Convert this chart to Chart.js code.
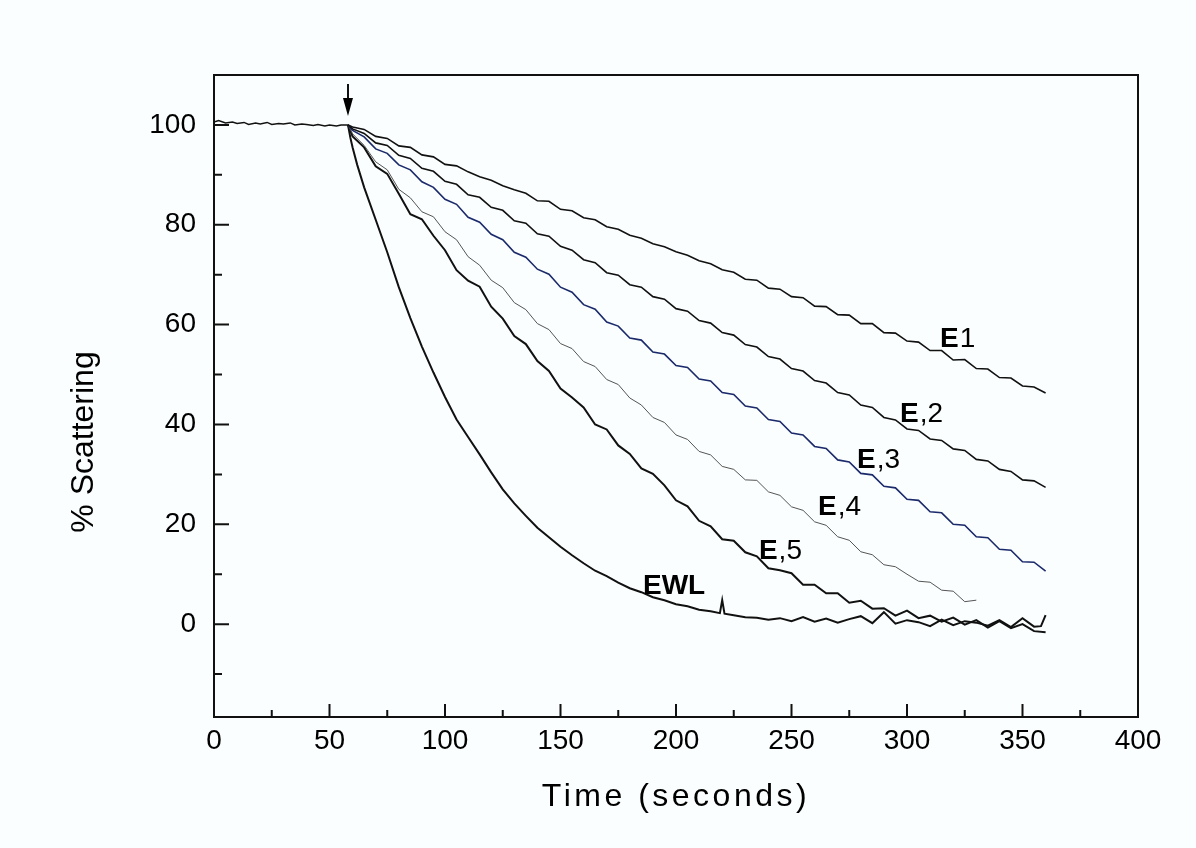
<!DOCTYPE html>
<html>
<head>
<meta charset="utf-8">
<script src="https://cdn.jsdelivr.net/npm/chart.js@4.4.1/dist/chart.umd.min.js"></script>
<style>
  html, body { margin: 0; padding: 0; background: #fbfefe; }
  #wrap { width: 1196px; height: 848px; }
</style>
</head>
<body>
<div id="wrap"><canvas id="myChart"></canvas></div>
<script>
// baseline before the addition (t < 58 s)
var baseTime = [0, 2, 5, 8, 10, 13, 15, 18, 20, 23, 25, 28, 30, 33, 35, 38, 40, 43, 45, 48, 50, 53, 55, 58];
var baseVals = [100.6, 100.9, 100.4, 100.6, 100.3, 100.5, 100.1, 100.4, 100.2, 100.5, 100.1, 100.3, 100.2, 100.4, 100.0, 100.2, 100.1, 99.9, 100.1, 99.8, 100.0, 99.8, 100.0, 100.0];

var time = [58, 60, 65, 70, 75, 80, 85, 90, 95, 100, 105, 110, 115, 120, 125, 130, 135, 140, 145, 150,
  155, 160, 165, 170, 175, 180, 185, 190, 195, 200, 205, 210, 215, 220, 225, 230, 235, 240, 245, 250,
  255, 260, 265, 270, 275, 280, 285, 290, 295, 300, 305, 310, 315, 320, 325, 330, 335, 340, 345, 350, 355, 360];

var e1 = [100, 99.6, 99.1, 97.7, 97.3, 95.8, 95.5, 94.0, 93.6, 92.1,
  91.8, 90.6, 89.6, 88.9, 87.8, 87.0, 86.3, 84.8, 84.7, 83.1,
  82.8, 81.4, 81.0, 79.6, 79.1, 77.9, 77.3, 76.2, 75.6, 74.6,
  73.9, 72.8, 72.2, 71.0, 70.5, 69.1, 68.9, 67.3, 67.1, 65.6,
  65.4, 63.7, 63.6, 62.0, 61.9, 60.2, 60.2, 58.4, 58.3, 56.7,
  56.5, 54.8, 54.8, 52.9, 53.0, 51.2, 51.1, 49.4, 49.3, 47.7, 47.5, 46.3];

var e2 = [100, 99.2, 98.3, 96.4, 95.9, 93.9, 93.3, 91.3, 90.7, 88.7,
  88.1, 86.0, 85.5, 83.5, 82.9, 80.8, 80.3, 78.2, 77.7, 75.7,
  74.9, 73.0, 72.4, 70.4, 69.9, 68.0, 67.5, 65.6, 65.1, 63.2,
  62.7, 60.8, 60.3, 58.4, 57.9, 56.0, 55.5, 53.6, 53.1, 51.2,
  50.7, 48.8, 48.3, 46.4, 45.9, 43.9, 43.4, 41.4, 40.9, 39.1,
  38.8, 37.1, 36.8, 35.1, 34.8, 33.0, 32.7, 31.0, 30.6, 28.9, 28.7, 27.4];

var e3 = [100, 98.9, 97.6, 95.2, 94.3, 92.0, 91.0, 88.6, 87.5, 85.1,
  84.1, 81.5, 80.5, 78.1, 77.0, 74.5, 73.5, 71.1, 70.1, 67.5,
  66.5, 64.0, 63.1, 60.5, 59.7, 57.3, 56.9, 54.5, 54.1, 51.8,
  51.4, 49.1, 48.7, 46.4, 46.0, 43.7, 43.3, 41.0, 40.6, 38.3,
  37.9, 35.6, 35.2, 32.9, 32.5, 30.2, 29.9, 27.6, 27.3, 25.0,
  24.8, 22.5, 22.3, 20.0, 19.8, 17.5, 17.3, 15.0, 14.8, 12.5, 12.4, 10.6];

// E,4 stops at 330 s
var e4 = [100, 98.2, 95.9, 92.6, 91.0, 87.1, 85.4, 82.6, 81.6, 78.6,
  77.0, 73.6, 71.9, 68.9, 67.4, 64.4, 63.0, 60.2, 59.0, 56.2,
  55.2, 52.6, 51.6, 49.0, 48.0, 45.3, 43.9, 41.4, 40.4, 37.9,
  37.0, 34.6, 33.9, 31.6, 31.0, 28.9, 28.8, 26.5, 25.8, 23.5,
  22.8, 20.5, 19.8, 17.5, 16.8, 14.5, 13.9, 11.9, 11.5, 10.0,
  8.6, 8.4, 6.8, 6.6, 4.5, 4.8];

var e5 = [100, 97.7, 95.5, 91.7, 90.2, 86.2, 82.1, 81.1, 77.8, 74.9,
  70.9, 68.8, 67.6, 63.6, 61.2, 57.7, 56.1, 52.7, 50.7, 47.2,
  45.4, 43.4, 40.0, 39.0, 35.8, 34.1, 31.2, 30.1, 27.8, 24.8,
  23.6, 20.7, 19.6, 17.0, 16.7, 14.4, 13.6, 11.2, 10.8, 10.2,
  7.9, 7.9, 6.2, 6.2, 4.3, 4.7, 3.1, 3.2, 1.7, 2.7,
  1.2, 1.7, 0.5, 1.3, -0.1, 0.8, -0.7, 0.6, -0.8, 0.0, -1.4, -1.6];

var ewlTime = [58, 59, 60, 62, 65, 70, 75, 80, 85, 90, 95, 100, 105, 110, 115, 120, 125, 130, 135, 140,
  145, 150, 155, 160, 165, 170, 175, 180, 185, 190, 195, 200, 205, 210, 215, 219, 220, 221,
  225, 230, 235, 240, 245, 250, 255, 260, 265, 270, 275, 280, 285, 290, 295, 300, 305, 310,
  315, 320, 325, 330, 335, 340, 345, 350, 355, 358, 360];
var ewl = [100, 97.5, 95.5, 92, 87.5, 81, 74.5, 67.5, 61.3, 55.6, 50.4, 45.5, 41, 37.5, 34, 30.4, 27, 24.2, 21.7, 19.3,
  17.4, 15.5, 13.8, 12.2, 10.7, 9.6, 8.3, 7.2, 6.4, 5.4, 4.8, 4.0, 3.6, 2.9, 2.6, 2.2, 4.8, 2.1,
  1.8, 1.4, 1.3, 0.9, 1.2, 0.6, 1.4, 0.5, 1.1, 0.3, 1.0, 1.6, 0.2, 2.4, 0.1, 0.8, 0.4, -0.4,
  0.9, -0.2, 0.6, 0.3, -0.3, 0.8, -0.6, 1.2, -0.5, -0.4, 1.8];

var xTicks = [0, 50, 100, 150, 200, 250, 300, 350, 400];
var xMinor = [25, 75, 125, 175, 225, 275, 325, 375];
var yTicks = [0, 20, 40, 60, 80, 100];
var yMinor = [-10, 10, 30, 50, 70, 90];

// curve labels: bold part, plain part, anchor (data units, left/baseline)
var curveLabels = [
  { bold: 'E', rest: '1', x: 314.3, y: 55.5 },
  { bold: 'E', rest: ',2', x: 297, y: 40.5 },
  { bold: 'E', rest: ',3', x: 278.4, y: 31.3 },
  { bold: 'E', rest: ',4', x: 261.5, y: 21.8 },
  { bold: 'E', rest: ',5', x: 235.9, y: 13.0 },
  { bold: 'EWL', rest: '', x: 185.7, y: 6.0 }
];

var FONT = "'Liberation Sans', Arial, sans-serif";
Chart.defaults.font.family = FONT;
Chart.defaults.color = '#000';

function pairs(xs, ys) {
  return ys.map(function (y, i) { return { x: xs[i], y: y }; });
}

function series(xs, ys, color, width) {
  return {
    data: pairs(xs, ys),
    borderColor: color,
    borderWidth: width,
    pointRadius: 0,
    fill: false,
    tension: 0
  };
}

var decor = {
  id: 'decor',
  beforeDraw: function (chart) {
    var ctx = chart.ctx;
    ctx.save();
    ctx.fillStyle = '#fbfefe';
    ctx.fillRect(0, 0, chart.width, chart.height);
    ctx.restore();
  },
  afterDraw: function (chart) {
    var ctx = chart.ctx, a = chart.chartArea;
    var sx = chart.scales.x, sy = chart.scales.y;
    ctx.save();
    ctx.strokeStyle = '#111';
    ctx.lineWidth = 2;
    ctx.strokeRect(a.left, a.top, a.right - a.left, a.bottom - a.top);

    ctx.beginPath();
    xTicks.forEach(function (v) {
      var p = sx.getPixelForValue(v);
      ctx.moveTo(p, a.bottom); ctx.lineTo(p, a.bottom - 13);
    });
    xMinor.forEach(function (v) {
      var p = sx.getPixelForValue(v);
      ctx.moveTo(p, a.bottom); ctx.lineTo(p, a.bottom - 7);
    });
    yTicks.forEach(function (v) {
      var p = sy.getPixelForValue(v);
      ctx.moveTo(a.left, p); ctx.lineTo(a.left + 15, p);
    });
    yMinor.forEach(function (v) {
      var p = sy.getPixelForValue(v);
      ctx.moveTo(a.left, p); ctx.lineTo(a.left + 8, p);
    });
    ctx.stroke();

    // arrow marking the addition at 58 s
    var ax = sx.getPixelForValue(58);
    var aTop = sy.getPixelForValue(108.2), aBase = sy.getPixelForValue(105.4), aTip = sy.getPixelForValue(101.8);
    ctx.lineWidth = 2;
    ctx.beginPath();
    ctx.moveTo(ax, aTop); ctx.lineTo(ax, aBase + 2);
    ctx.stroke();
    ctx.fillStyle = '#000';
    ctx.beginPath();
    ctx.moveTo(ax - 5, aBase); ctx.lineTo(ax + 5, aBase); ctx.lineTo(ax, aTip);
    ctx.closePath();
    ctx.fill();

    // curve labels
    ctx.textBaseline = 'alphabetic';
    ctx.textAlign = 'left';
    curveLabels.forEach(function (l) {
      var px = sx.getPixelForValue(l.x), py = sy.getPixelForValue(l.y);
      ctx.font = 'bold 28px ' + FONT;
      ctx.fillText(l.bold, px, py);
      var w = ctx.measureText(l.bold).width;
      ctx.font = '28px ' + FONT;
      ctx.fillText(l.rest, px + w + 1, py);
    });

    // axis titles
    ctx.textAlign = 'center';
    ctx.textBaseline = 'middle';
    ctx.font = '32px ' + FONT;
    ctx.letterSpacing = '3.5px';
    ctx.fillText('Time (seconds)', (a.left + a.right) / 2, 797);
    ctx.letterSpacing = '0px';
    ctx.translate(84, 442);
    ctx.rotate(-Math.PI / 2);
    ctx.fillText('% Scattering', 0, 0);
    ctx.restore();
  }
};

new Chart('myChart', {
  type: 'line',
  data: {
    datasets: [
      series(baseTime, baseVals, '#111', 1.5),
      series(time, e1, '#111', 1.6),
      series(time, e2, '#111', 1.6),
      series(time, e3, '#1b2a6b', 1.6),
      series(time.slice(0, e4.length), e4, '#555', 1),
      series(time, e5, '#111', 2),
      series(ewlTime, ewl, '#111', 2)
    ]
  },
  options: {
    responsive: true,
    maintainAspectRatio: false,
    animation: false,
    layout: { padding: { left: 0, top: 75, right: 58, bottom: 0 } },
    plugins: { legend: { display: false }, tooltip: { enabled: false } },
    scales: {
      x: {
        type: 'linear',
        min: 0,
        max: 400,
        afterBuildTicks: function (s) { s.ticks = xTicks.map(function (v) { return { value: v }; }); },
        afterFit: function (s) { s.height = 131; },
        grid: { display: false, drawTicks: false },
        border: { display: false },
        ticks: { font: { size: 28 }, color: '#000', padding: 7, maxRotation: 0, autoSkip: false },
        title: { display: false }
      },
      y: {
        type: 'linear',
        min: -18.6,
        max: 110,
        afterBuildTicks: function (s) { s.ticks = yTicks.map(function (v) { return { value: v }; }); },
        afterFit: function (s) { s.width = 214; },
        grid: { display: false, drawTicks: false },
        border: { display: false },
        ticks: { font: { size: 28 }, color: '#000', padding: 18, autoSkip: false },
        title: { display: false }
      }
    }
  },
  plugins: [decor]
});
</script>
</body>
</html>
